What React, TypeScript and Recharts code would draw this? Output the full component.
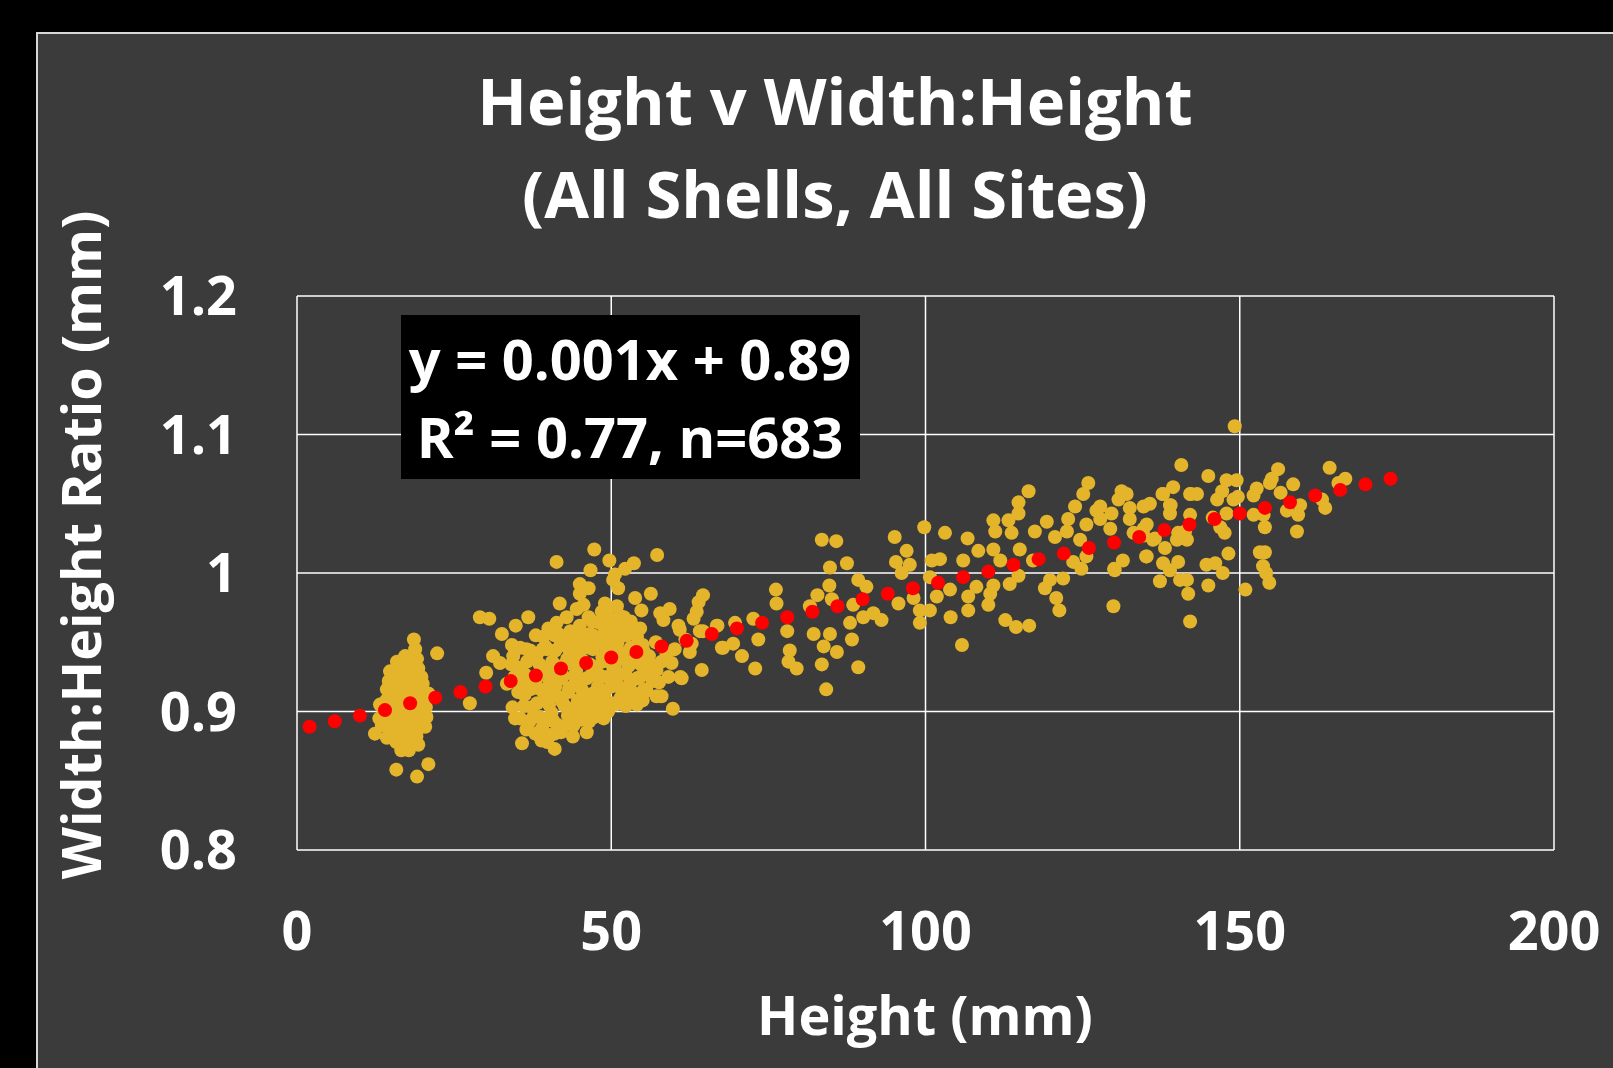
import React from "react";
import { CartesianGrid, Scatter, ScatterChart, XAxis, YAxis } from "recharts";

const xTicks = [0, 50, 100, 150, 200];
const yTicks = [0.8, 0.9, 1, 1.1, 1.2];

// [height mm, width:height]
// small shells, around 12-23 mm
const smallShells: [number, number][] = [
  [18.6, 0.952], [22.3, 0.942], [19.1, 0.938], [16.1, 0.934], [14.8, 0.929], [19.8, 0.925],
  [14.3, 0.916], [13.2, 0.905], [20.9, 0.913], [20.6, 0.896], [20.4, 0.889], [12.4, 0.884],
  [14.3, 0.881], [17.5, 0.875], [19.0, 0.882], [15.8, 0.858], [19.1, 0.853], [20.9, 0.862],
  [15.5, 0.92], [16.5, 0.925], [17.5, 0.93], [18.0, 0.92], [19.0, 0.915], [17.0, 0.91],
  [15.0, 0.905], [16.0, 0.9], [18.5, 0.9], [19.5, 0.905], [17.0, 0.895], [15.0, 0.89],
  [16.5, 0.885], [18.0, 0.888], [19.5, 0.893], [14.0, 0.895], [16.0, 0.912], [18.2, 0.928],
  [17.3, 0.918], [20.0, 0.92], [15.8, 0.878], [17.8, 0.872], [18.6, 0.878], [14.8, 0.888],
  [13.8, 0.9], [16.8, 0.935], [17.2, 0.94], [18.8, 0.945], [17.6, 0.902], [19.3, 0.876],
  [16.2, 0.893], [18.9, 0.908], [15.2, 0.915], [19.8, 0.898], [17.9, 0.882], [16.6, 0.872],
  [13.5, 0.89], [18.3, 0.935],
  [14.6, 0.922], [15.7, 0.928], [16.9, 0.928], [19.3, 0.931], [14.2, 0.908], [15.6, 0.897],
  [16.7, 0.903], [18.1, 0.895], [19.2, 0.887], [20.2, 0.91], [17.1, 0.887], [15.3, 0.883],
  [16.4, 0.878], [18.4, 0.913], [13.1, 0.895], [20.5, 0.903], [17.7, 0.924], [15.9, 0.936],
  [18.7, 0.884], [17.4, 0.88],
];

// medium shells, around 27-68 mm
const mediumShells: [number, number][] = [
  [27.5, 0.906], [29.1, 0.968], [30.6, 0.967], [32.6, 0.956], [34.8, 0.962], [36.8, 0.968],
  [32.3, 0.935], [33.4, 0.92], [34.2, 0.948], [35.5, 0.946], [34.4, 0.94], [34.3, 0.903],
  [34.7, 0.895], [35.5, 0.895], [35.8, 0.877], [36.5, 0.887], [38.9, 0.879], [41.0, 0.873],
  [41.0, 0.884], [40.3, 0.883], [43.3, 0.891], [46.1, 0.885], [48.7, 0.9], [48.8, 0.895],
  [46.9, 0.901], [47.3, 1.017], [41.3, 1.008], [49.7, 1.009], [53.6, 1.007], [57.3, 1.013],
  [46.7, 1.002], [52.2, 1.003], [50.6, 0.999], [50.3, 0.995], [51.1, 0.989], [45.0, 0.992],
  [46.4, 0.989], [45.0, 0.985], [45.6, 0.977], [41.8, 0.978], [44.5, 0.974], [40.5, 0.958],
  [41.3, 0.964], [42.9, 0.968], [46.4, 0.968], [49.0, 0.978], [50.9, 0.976], [51.4, 0.969],
  [53.8, 0.982], [56.3, 0.985], [54.8, 0.973], [57.8, 0.971], [59.3, 0.974], [63.9, 0.979],
  [64.6, 0.984], [63.1, 0.967], [60.7, 0.962], [54.6, 0.96], [51.9, 0.96], [58.3, 0.966],
  [64.1, 0.958], [62.8, 0.949], [62.5, 0.943], [64.4, 0.93], [61.0, 0.925], [59.1, 0.925],
  [57.2, 0.93], [58.8, 0.942], [58.0, 0.936], [58.0, 0.911], [59.8, 0.902], [55.6, 0.915],
  [55.0, 0.908], [53.5, 0.907], [52.2, 0.907], [39.5, 0.947], [42.4, 0.952], [44.0, 0.954],
  [45.6, 0.953], [47.1, 0.955], [49.3, 0.961], [49.3, 0.971], [38.1, 0.94], [66.8, 0.962],
  [67.8, 0.946], [61.2, 0.924], [57.2, 0.911], [60.9, 0.959],
  [36.2, 0.912], [36.9, 0.925], [37.4, 0.903], [37.8, 0.938], [38.3, 0.917], [38.6, 0.896],
  [39.1, 0.93], [39.4, 0.908], [39.8, 0.945], [40.2, 0.921], [40.5, 0.899], [40.9, 0.934],
  [41.2, 0.912], [41.6, 0.89], [41.9, 0.948], [42.3, 0.926], [42.6, 0.904], [43.0, 0.938],
  [43.3, 0.917], [43.7, 0.896], [44.1, 0.944], [44.4, 0.929], [44.7, 0.908], [45.1, 0.921],
  [45.4, 0.937], [45.8, 0.899], [46.2, 0.912], [46.5, 0.946], [46.8, 0.926], [47.2, 0.905],
  [47.5, 0.932], [47.9, 0.918], [48.2, 0.95], [48.6, 0.939], [48.9, 0.91], [49.3, 0.925],
  [49.6, 0.944], [50.0, 0.918], [50.3, 0.932], [50.7, 0.905], [51.0, 0.95], [51.4, 0.927],
  [51.7, 0.94], [52.1, 0.915], [52.4, 0.955], [52.8, 0.933], [53.1, 0.921], [53.5, 0.945],
  [53.8, 0.912], [54.2, 0.936], [54.6, 0.925], [55.0, 0.948], [55.5, 0.93], [56.0, 0.94],
  [56.6, 0.922], [57.1, 0.95], [38.0, 0.955], [40.0, 0.96], [43.5, 0.958], [45.0, 0.962],
  [47.0, 0.965], [48.5, 0.972], [50.5, 0.96], [52.0, 0.968], [53.0, 0.958], [42.0, 0.885],
  [44.0, 0.89], [46.5, 0.893], [39.0, 0.888], [37.0, 0.893], [49.5, 0.9], [51.5, 0.91],
  [35.5, 0.92], [35.0, 0.932], [36.5, 0.945], [44.8, 0.95], [46.0, 0.955], [49.0, 0.958],
  [43.0, 0.948], [41.0, 0.955],
  [37.6, 0.896], [39.6, 0.894], [40.8, 0.893], [43.1, 0.897], [45.2, 0.894], [47.3, 0.896],
  [36.1, 0.904], [38.2, 0.906], [40.1, 0.905], [42.2, 0.907], [44.2, 0.903], [46.1, 0.906],
  [48.1, 0.904], [50.1, 0.906], [52.3, 0.904], [54.1, 0.905], [35.2, 0.914], [37.1, 0.916],
  [39.2, 0.914], [41.1, 0.918], [43.2, 0.914], [45.3, 0.916], [47.1, 0.913], [49.1, 0.915],
  [51.2, 0.918], [53.3, 0.914], [55.2, 0.916], [34.6, 0.925], [36.2, 0.927], [38.1, 0.924],
  [40.1, 0.926], [42.1, 0.924], [44.2, 0.925], [46.1, 0.924], [48.2, 0.926], [50.1, 0.925],
  [52.2, 0.927], [54.1, 0.924], [56.1, 0.926], [34.1, 0.934], [36.6, 0.936], [38.6, 0.934],
  [40.6, 0.936], [42.6, 0.934], [44.6, 0.935], [46.6, 0.934], [48.6, 0.936], [50.6, 0.934],
  [52.6, 0.936], [54.7, 0.934], [37.1, 0.944], [39.1, 0.945], [41.1, 0.944], [43.1, 0.946],
  [45.1, 0.944], [47.1, 0.945], [49.1, 0.946], [51.1, 0.944], [53.1, 0.946], [55.1, 0.944],
  [39.2, 0.954], [41.6, 0.956], [44.1, 0.954], [46.6, 0.956], [49.6, 0.954], [51.6, 0.956],
  [54.1, 0.954], [48.1, 0.964], [50.2, 0.966], [53.1, 0.965], [37.9, 0.884], [39.8, 0.878],
  [43.9, 0.882], [57.6, 0.921], [56.4, 0.933], [59.6, 0.935], [61.8, 0.952], [63.6, 0.972],
  [60.1, 0.945], [31.2, 0.94], [30.1, 0.928],
];

// large shells, around 64-167 mm
const largeShells: [number, number][] = [
  [64.6, 0.958], [66.9, 0.962], [69.7, 0.964], [72.6, 0.967], [67.6, 0.946], [69.4, 0.949],
  [70.8, 0.94], [72.9, 0.931], [73.4, 0.952], [76.2, 0.988], [76.3, 0.978], [78.0, 0.958],
  [78.4, 0.944], [78.2, 0.936], [79.5, 0.931], [83.5, 0.934], [84.2, 0.916], [83.5, 1.024],
  [85.8, 1.023], [84.8, 1.004], [87.5, 1.007], [84.7, 0.991], [85.1, 0.981], [82.8, 0.984],
  [81.6, 0.976], [82.2, 0.956], [84.8, 0.956], [83.8, 0.947], [85.9, 0.943], [88.0, 0.964],
  [88.5, 0.977], [89.3, 0.995], [90.6, 0.99], [90.1, 0.968], [91.7, 0.971], [93.0, 0.966],
  [89.3, 0.932], [88.3, 0.952], [95.1, 1.026], [95.3, 1.008], [97.0, 1.016], [97.5, 1.006],
  [96.2, 1.0], [95.7, 0.978], [98.1, 0.982], [99.1, 0.973], [100.7, 0.973], [99.1, 0.964],
  [99.8, 1.033], [100.7, 0.997], [101.0, 1.009], [102.3, 1.01], [103.1, 1.029], [101.8, 0.983],
  [103.9, 0.988], [104.0, 0.968], [105.8, 0.948], [106.0, 1.009], [106.7, 1.025], [108.4, 1.016],
  [106.8, 0.983], [106.8, 0.973], [108.1, 0.99], [110.0, 0.977], [110.3, 0.985], [110.8, 0.991],
  [110.8, 1.038], [111.1, 1.03], [110.8, 1.017], [111.9, 1.009], [112.7, 0.966], [114.4, 0.961],
  [116.5, 0.962], [113.4, 0.992], [114.8, 0.998], [113.2, 1.038], [114.8, 1.043], [114.8, 1.051],
  [116.4, 1.059], [113.7, 1.029], [115.0, 1.017], [117.4, 1.03], [119.3, 1.037], [117.1, 1.009],
  [119.8, 0.995], [119.0, 0.989], [120.8, 0.982], [121.3, 0.973], [121.9, 0.996], [120.6, 1.026],
  [122.5, 1.03], [122.7, 1.039], [123.8, 1.048], [125.1, 1.057], [125.9, 1.065], [125.6, 1.035],
  [124.6, 1.024], [125.6, 1.012], [123.5, 1.008], [124.8, 1.003], [127.2, 1.045], [129.9, 0.976],
  [130.1, 1.002], [131.4, 1.009], [129.6, 1.043], [129.4, 1.032], [131.2, 1.059], [132.0, 1.057],
  [130.7, 1.053], [132.5, 1.047], [133.1, 1.029], [135.2, 1.035], [135.2, 1.012], [135.7, 1.05],
  [137.8, 1.057], [139.4, 1.062], [140.7, 1.078], [142.1, 1.057], [142.1, 1.042], [138.9, 1.049],
  [138.9, 1.043], [136.5, 1.025], [138.1, 1.018], [137.8, 1.007], [138.9, 1.002], [140.2, 1.008],
  [137.3, 0.994], [140.5, 0.995], [141.6, 0.995], [141.8, 0.985], [142.1, 0.965], [141.6, 1.024],
  [149.2, 1.106], [145.0, 1.07], [147.9, 1.067], [149.5, 1.067], [137.7, 1.057], [142.2, 1.057],
  [143.2, 1.057], [147.2, 1.059], [146.4, 1.053], [149.0, 1.053], [134.7, 1.048], [139.0, 1.049],
  [145.7, 1.04], [147.9, 1.043], [147.6, 1.029], [146.9, 1.033], [152.2, 1.042], [152.7, 1.061],
  [152.2, 1.056], [156.1, 1.075], [155.1, 1.068], [154.8, 1.065], [158.5, 1.064], [156.5, 1.058],
  [153.8, 1.042], [154.0, 1.033], [157.5, 1.045], [159.6, 1.049], [159.3, 1.042], [159.1, 1.03],
  [163.6, 1.047], [163.1, 1.053], [164.3, 1.076], [165.7, 1.065], [166.8, 1.068], [148.2, 1.014],
  [153.2, 1.015], [154.0, 1.015], [153.7, 1.005], [154.2, 1.0], [154.7, 0.993], [150.9, 0.988],
  [145.0, 0.991], [146.1, 1.007], [144.7, 1.006], [147.3, 1.0], [135.1, 1.012], [130.0, 1.003],
  [134.7, 1.027], [136.2, 1.024], [140.0, 1.024], [127.8, 1.039], [127.8, 1.048], [132.5, 1.039],
  [134.7, 1.032], [140.2, 1.029], [141.3, 1.03], [149.7, 1.055],
];

// trendline markers
const trendHeights = [
  2, 6, 10, 14, 18, 22, 26, 30, 34, 38, 42, 46, 50, 54, 58, 62, 66, 70, 74, 78, 82, 86,
  90, 94, 98, 102, 106, 110, 114, 118, 122, 126, 130, 134, 138, 142, 146, 150, 154, 158,
  162, 166, 170, 174,
];
const trendRatios = [
  0.889, 0.893, 0.897, 0.901, 0.906, 0.91, 0.914, 0.918, 0.922, 0.926, 0.931, 0.935, 0.939,
  0.943, 0.947, 0.951, 0.956, 0.96, 0.964, 0.968, 0.972, 0.976, 0.981, 0.985, 0.989, 0.993,
  0.997, 1.001, 1.006, 1.01, 1.014, 1.018, 1.022, 1.026, 1.031, 1.035, 1.039, 1.043, 1.047,
  1.051, 1.056, 1.06, 1.064, 1.068,
];

const shellData = [...smallShells, ...mediumShells, ...largeShells].map(([h, v]) => ({ h, v }));
const trendData = trendHeights.map((h, i) => ({ h, v: trendRatios[i] }));

const FONT = "'Open Sans', sans-serif";
const GOLD = "#E4B52B";
const RED = "#FF0000";
const PLOT_LEFT = 297;

const YTick = (props: any) => (
  <text x={PLOT_LEFT - 60} y={props.y} dy="0.36em" textAnchor="end" fill="#fff"
    fontFamily={FONT} fontWeight={700} fontSize={54}>
    {props.payload.value}
  </text>
);

const XTick = (props: any) => (
  <text x={props.x} y={950} textAnchor="middle" fill="#fff"
    fontFamily={FONT} fontWeight={700} fontSize={54}>
    {props.payload.value}
  </text>
);

const txt = { fill: "#fff", fontFamily: FONT, fontWeight: 700 } as const;

export default function App() {
  return (
    <div style={{ position: "absolute", left: 0, top: 0, width: 1613, height: 1068, background: "#000", overflow: "hidden" }}>
      <div style={{ position: "absolute", left: 36, top: 32, width: 1620, height: 1100, background: "#3b3b3b", border: "2px solid #d8d8d8", boxSizing: "border-box" }} />
      <div style={{ position: "absolute", left: 0, top: 0 }}>
        <ScatterChart width={1613} height={1068} margin={{ top: 296, right: 59, bottom: 118, left: 197 }}>
          <CartesianGrid stroke="#ffffff" strokeWidth={1.5} />
          <XAxis type="number" dataKey="h" domain={[0, 200]} ticks={xTicks} height={100}
            axisLine={false} tickLine={false} tick={<XTick />} interval={0} />
          <YAxis type="number" dataKey="v" domain={[0.8, 1.2]} ticks={yTicks} width={100}
            axisLine={false} tickLine={false} tick={<YTick />} interval={0} />
          <Scatter data={shellData} isAnimationActive={false}
            shape={(p: any) => <circle cx={p.cx} cy={p.cy} r={7} fill={GOLD} />} />
          <Scatter data={trendData} isAnimationActive={false}
            shape={(p: any) => <circle cx={p.cx} cy={p.cy} r={7} fill={RED} />} />
        </ScatterChart>
      </div>
      <svg width={1613} height={1068} style={{ position: "absolute", left: 0, top: 0, pointerEvents: "none" }}>
        <text x={835} y={125} textAnchor="middle" fontSize={65} {...txt}>Height v Width:Height</text>
        <text x={835} y={218} textAnchor="middle" fontSize={65} {...txt}>(All Shells, All Sites)</text>
        <text x={925} y={1035} textAnchor="middle" fontSize={54} {...txt}>Height (mm)</text>
        <text x={101} y={545} textAnchor="middle" fontSize={54} transform="rotate(-90 101 545)" {...txt}>
          Width:Height Ratio (mm)
        </text>
        <rect x={401} y={315} width={459} height={164} fill="#000" />
        <text x={630} y={380} textAnchor="middle" fontSize={56} {...txt}>y = 0.001x + 0.89</text>
        <text x={630} y={458} textAnchor="middle" fontSize={56} {...txt}>R² = 0.77, n=683</text>
      </svg>
    </div>
  );
}
